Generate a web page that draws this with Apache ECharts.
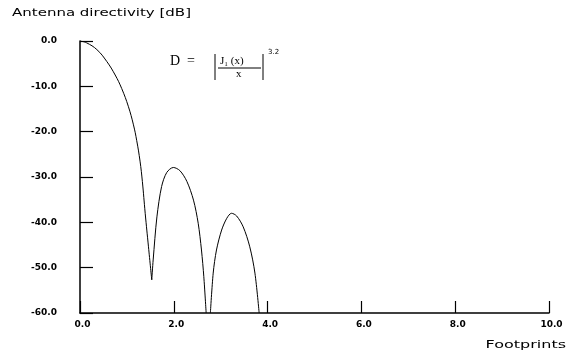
<!DOCTYPE html>
<html>
<head>
<meta charset="utf-8">
<script src="https://cdn.jsdelivr.net/npm/echarts@6/dist/echarts.min.js"></script>
<style>
  html, body { margin: 0; padding: 0; background: #fff; }
  #chart { width: 568px; height: 353px; }
</style>
</head>
<body>
<div id="chart"></div>
<script>
// values: footprints vs directivity in dB
var mainLobe = [
  [0, 0], [0.14, -0.4], [0.36, -1.9], [0.57, -4.5], [0.75, -7.5], [0.89, -10.5],
  [1.03, -14.4], [1.14, -18.5], [1.21, -22.0], [1.28, -26.5], [1.33, -31.0],
  [1.39, -38.0], [1.46, -45.4], [1.53, -52.7]
];
var sideLobe1 = [
  [1.53, -52.7], [1.56, -48.3], [1.64, -38.8], [1.74, -32.1], [1.85, -29.0],
  [1.99, -27.9], [2.13, -28.6], [2.28, -31.0], [2.42, -35.1], [2.52, -40.2],
  [2.59, -46.1], [2.64, -52.0], [2.69, -60.0]
];
var sideLobe2 = [
  [2.78, -60.0], [2.84, -51.2], [2.91, -46.1], [3.02, -41.7], [3.13, -39.1],
  [3.23, -38.0], [3.34, -38.6], [3.48, -41.0], [3.62, -45.4], [3.73, -51.2],
  [3.82, -60.0]
];
var yTicks = [0, -10, -20, -30, -40, -50, -60];
var xTicks = [0, 2, 4, 6, 8, 10];

var chart = echarts.init(document.getElementById('chart'));
var font = 'DejaVu Sans';
var lineStyle = { color: '#000', width: 1 };

chart.setOption({
  animation: false,
  grid: { left: 80, right: 19, top: 41, bottom: 40 },
  xAxis: {
    type: 'value', min: 0, max: 10, interval: 2,
    axisLine: { onZero: false, lineStyle: { color: '#000', width: 1.5 } },
    axisTick: { inside: true, length: 12, lineStyle: { color: '#000', width: 1.2 } },
    axisLabel: {
      color: '#000', fontFamily: font, fontSize: 9, fontWeight: 'bold', margin: 7,
      padding: [0, 0, 0, 5],
      formatter: function (v) { return v.toFixed(1); }
    },
    splitLine: { show: false }
  },
  yAxis: {
    type: 'value', min: -60, max: 0, interval: 10,
    axisLine: { onZero: false, lineStyle: { color: '#000', width: 1.5 } },
    axisTick: { inside: true, length: 13, lineStyle: { color: '#000', width: 1.2 } },
    axisLabel: {
      color: '#000', fontFamily: font, fontSize: 9, fontWeight: 'bold', margin: 23,
      formatter: function (v) { return v.toFixed(1); }
    },
    splitLine: { show: false }
  },
  graphic: [
    { type: 'text', x: 12, y: 13, scaleX: 1.5,
      style: { text: 'Antenna directivity [dB]', fontFamily: font, fontSize: 10, fill: '#000',
               align: 'left', verticalAlign: 'middle' } },
    { type: 'text', x: 566, y: 345, scaleX: 1.6,
      style: { text: 'Footprints', fontFamily: font, fontSize: 10, fill: '#000',
               align: 'right', verticalAlign: 'middle' } },
    { type: 'text', left: 170, top: 54, style: { text: 'D  =', fontFamily: 'Liberation Serif', fontSize: 14, fill: '#000' } },
    { type: 'line', shape: { x1: 215, y1: 54, x2: 215, y2: 80 }, style: { stroke: '#000', lineWidth: 1 } },
    { type: 'text', left: 220, top: 56, style: { text: 'J\u2081 (x)', fontFamily: 'Liberation Serif', fontSize: 11, fill: '#000' } },
    { type: 'line', shape: { x1: 218, y1: 68, x2: 261, y2: 68 }, style: { stroke: '#000', lineWidth: 1 } },
    { type: 'text', left: 236, top: 69, style: { text: 'x', fontFamily: 'Liberation Serif', fontSize: 11, fill: '#000' } },
    { type: 'line', shape: { x1: 263, y1: 54, x2: 263, y2: 80 }, style: { stroke: '#000', lineWidth: 1 } },
    { type: 'text', left: 268, top: 49, style: { text: '3.2', fontFamily: font, fontSize: 7, fill: '#000' } }
  ],
  series: [
    { type: 'line', data: mainLobe, symbol: 'none', smooth: 0.4, lineStyle: lineStyle },
    { type: 'line', data: sideLobe1, symbol: 'none', smooth: 0.3, lineStyle: lineStyle },
    { type: 'line', data: sideLobe2, symbol: 'none', smooth: 0.3, lineStyle: lineStyle }
  ]
});
</script>
</body>
</html>
